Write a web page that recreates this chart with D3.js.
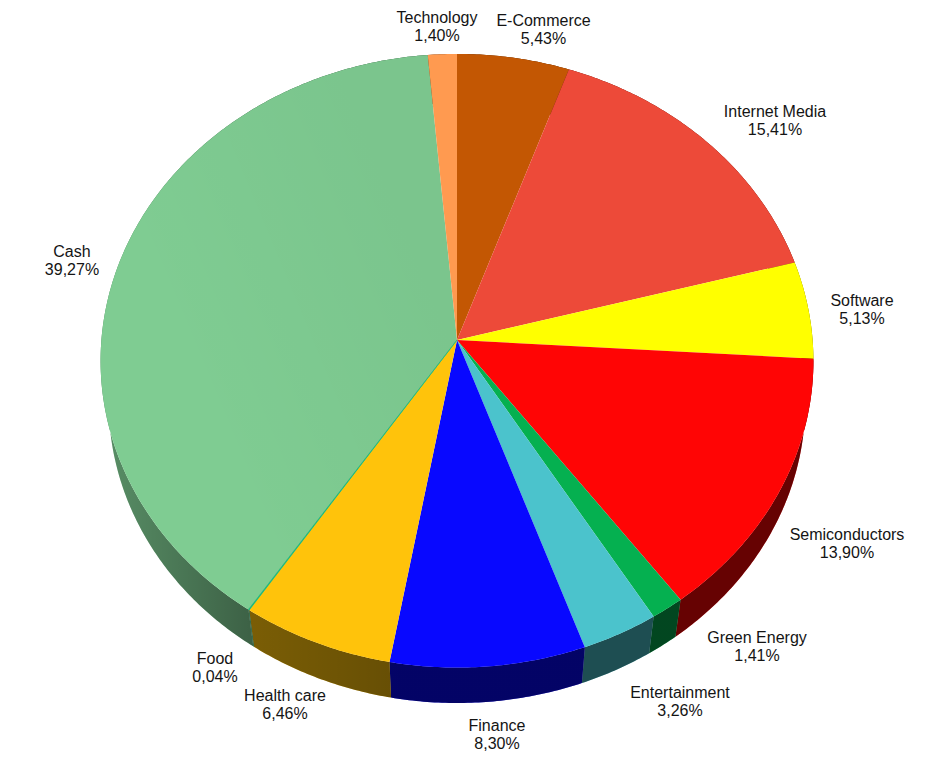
<!DOCTYPE html>
<html>
<head>
<meta charset="utf-8">
<script src="https://cdn.jsdelivr.net/npm/d3@7"></script>
<style>
  html, body { margin: 0; background: #fff; }
  svg { display: block; }
  text { font-family: "Liberation Sans", Arial, sans-serif; font-size: 16px; fill: #141414; }
</style>
</head>
<body>
<svg id="chart" width="928" height="757"></svg>
<script>
const categories = ["E-Commerce", "Internet Media", "Software", "Semiconductors", "Green Energy", "Entertainment", "Finance", "Health care", "Food", "Cash", "Technology"];
const shares = [5.43, 15.41, 5.13, 13.90, 1.41, 3.26, 8.30, 6.46, 0.04, 39.27, 1.40];
const shareLabels = ["5,43%", "15,41%", "5,13%", "13,90%", "1,41%", "3,26%", "8,30%", "6,46%", "0,04%", "39,27%", "1,40%"];
const colors = ["#c35703", "#ed4a39", "#ffff00", "#ff0505", "#05b050", "#4bc3cc", "#0808ff", "#ffc30b", "#20b878", "#7fcc92", "#ff9a50"];

// label centres, [x, y of first line baseline]
const labelSpots = [[543.5, 26], [775, 117], [862, 306], [847, 540], [757, 643], [680, 698], [497, 731], [285, 701], [215, 664], [72, 257], [437, 23]];

// tilted disc, apex of the pie is not the centre of the ellipse on screen
const cx = 457, cy = 340;
const radiusX = 355.6, radiusY = 305.4, persp = 0.0676;
const rimScale = 0.977, rimDrop = 43;

function project(angle) {
    const u = Math.sin(angle), v = -Math.cos(angle);
    const w = 1 - persp * v;
    return [cx + radiusX * u / w, cy + radiusY * v / w];
}

function lowerRim(p) {
    return [cx + rimScale * (p[0] - cx), cy + rimDrop + rimScale * (p[1] - cy)];
}

function arcPoints(a0, a1) {
    const n = Math.max(2, Math.ceil((a1 - a0) / 0.01));
    return d3.range(n + 1).map(i => project(a0 + (a1 - a0) * i / n));
}

const svg = d3.select("#chart");
const line = d3.line();
const arcs = d3.pie().sort(null).value(d => d)(shares);
const defs = svg.append("defs");

// wall shading gets darker going right, then stays flat
const grad = defs.append("linearGradient")
    .attr("id", "wallShade")
    .attr("gradientUnits", "userSpaceOnUse")
    .attr("x1", 115).attr("x2", 400).attr("y1", 0).attr("y2", 0);
[[0, 0.32], [0.47, 0.52], [1, 0.6]].forEach(s => {
    grad.append("stop").attr("offset", s[0]).attr("stop-color", "#000").attr("stop-opacity", s[1]);
});

// the big cash slice is a touch darker towards the top right
const topGrad = defs.append("linearGradient")
    .attr("id", "cashShade")
    .attr("gradientUnits", "userSpaceOnUse")
    .attr("x1", 200).attr("x2", 440).attr("y1", 400).attr("y2", 300);
[[0, 0], [1, 0.035]].forEach(s => {
    topGrad.append("stop").attr("offset", s[0]).attr("stop-color", "#000").attr("stop-opacity", s[1]);
});

const wallPath = d => {
    const rim = arcPoints(d.startAngle, d.endAngle);
    return line(rim.concat(rim.map(lowerRim).reverse())) + "Z";
};
const topPath = d => line([[cx, cy]].concat(arcPoints(d.startAngle, d.endAngle))) + "Z";

const foodIndex = categories.indexOf("Food");

const walls = svg.append("g");
walls.selectAll("path.wall").data(arcs).join("path")
    .attr("class", "wall")
    .attr("d", wallPath)
    .attr("fill", (d, i) => colors[i]);
walls.selectAll("path.shade").data(arcs).join("path")
    .attr("class", "shade")
    .attr("d", wallPath)
    .attr("fill", "url(#wallShade)");

const tops = svg.append("g");
tops.selectAll("path").data(arcs).join("path")
    .attr("d", topPath)
    .attr("fill", (d, i) => colors[i]);
tops.append("path")
    .datum(arcs[categories.indexOf("Cash")])
    .attr("d", topPath)
    .attr("fill", "url(#cashShade)");
// food is too thin to show as a filled wedge, so give it a hairline on top
tops.append("path")
    .datum(arcs[foodIndex])
    .attr("d", topPath)
    .attr("fill", colors[foodIndex])
    .attr("stroke", colors[foodIndex])
    .attr("stroke-width", 0.7);

const labels = svg.append("g").selectAll("text").data(categories).join("text")
    .attr("text-anchor", "middle")
    .attr("x", (d, i) => labelSpots[i][0])
    .attr("y", (d, i) => labelSpots[i][1]);
labels.append("tspan").text(d => d);
labels.append("tspan")
    .attr("x", (d, i) => labelSpots[i][0])
    .attr("dy", 18)
    .text((d, i) => shareLabels[i]);
</script>
</body>
</html>
